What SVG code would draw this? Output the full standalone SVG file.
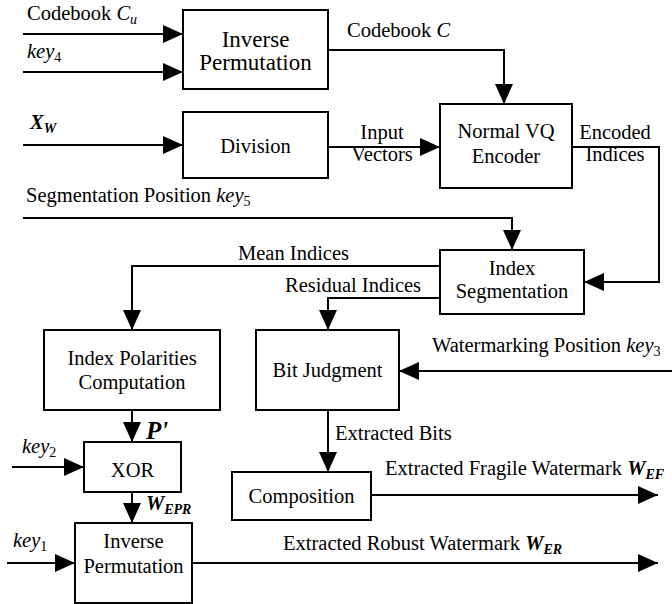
<svg xmlns="http://www.w3.org/2000/svg" width="672" height="604" viewBox="0 0 672 604">
  <style>
    .t { font-family: "Liberation Serif", serif; font-size: 20.5px; }
    .c { text-anchor: middle; }
    .i { font-style: italic; }
    .bi { font-style: italic; font-weight: bold; }
    .sub { font-size: 14px; }
    .box { fill: #fff; stroke: #000; stroke-width: 2; }
    .wire { fill: none; stroke: #000; stroke-width: 2; }
  </style>
  <defs>
    <marker id="arrow" markerUnits="userSpaceOnUse" markerWidth="20" markerHeight="18" refX="20" refY="9" orient="auto">
      <path d="M0,0 L20,9 L0,18 z" fill="#000"/>
    </marker>
  </defs>
  <rect width="672" height="604" fill="#fff"/>

  <!-- connectors -->
  <g id="connectors" class="wire" marker-end="url(#arrow)">
    <path d="M23,34 H183"/>
    <path d="M23,72 H183"/>
    <path d="M328,50 H504 V104"/>
    <path d="M23,145 H183"/>
    <path d="M328,147 H440"/>
    <path d="M572,147 H659 V282 H584"/>
    <path d="M23,218 H512 V250"/>
    <path d="M440,266 H132 V330"/>
    <path d="M440,298 H328 V330"/>
    <path d="M672,371 H399"/>
    <path d="M328,410 V472"/>
    <path d="M371,495 H658"/>
    <path d="M132,410 V442"/>
    <path d="M12,467 H84"/>
    <path d="M132,492 V523"/>
    <path d="M7,563 H75"/>
    <path d="M192,563 H658"/>
  </g>

  <!-- connector labels -->
  <g id="labels">
    <text class="t" font-family="Liberation Serif" x="27" y="20">Codebook <tspan class="i">C</tspan><tspan class="i sub" dy="4">u</tspan></text>
    <text class="t" font-family="Liberation Serif" x="27" y="58"><tspan class="i">key</tspan><tspan class="sub" dy="4">4</tspan></text>
    <text class="t" font-family="Liberation Serif" x="347" y="37">Codebook <tspan class="i">C</tspan></text>
    <text class="t c" font-family="Liberation Serif" x="382" y="139">Input</text>
    <text class="t c" font-family="Liberation Serif" x="382" y="161">Vectors</text>
    <text class="t c" font-family="Liberation Serif" x="615" y="139">Encoded</text>
    <text class="t c" font-family="Liberation Serif" x="615" y="161">Indices</text>
    <text class="t" font-family="Liberation Serif" x="30" y="129"><tspan class="bi">X</tspan><tspan class="bi sub" dy="4">W</tspan></text>
    <text class="t" font-family="Liberation Serif" x="26" y="202">Segmentation Position <tspan class="i">key</tspan><tspan class="sub" dy="4">5</tspan></text>
    <text class="t" font-family="Liberation Serif" x="238" y="260">Mean Indices</text>
    <text class="t" font-family="Liberation Serif" x="285" y="292">Residual Indices</text>
    <text class="t" font-family="Liberation Serif" x="432" y="352">Watermarking Position <tspan class="i">key</tspan><tspan class="sub" dy="4">3</tspan></text>
    <text class="t" font-family="Liberation Serif" x="335" y="440">Extracted Bits</text>
    <text class="t" font-family="Liberation Serif" x="385" y="475">Extracted Fragile Watermark <tspan class="bi">W</tspan><tspan class="bi sub" dy="4">EF</tspan></text>
    <text class="t" font-family="Liberation Serif" x="283" y="550">Extracted Robust Watermark <tspan class="bi">W</tspan><tspan class="bi sub" dy="4">ER</tspan></text>
    <text class="t bi" font-family="Liberation Serif" style="font-size:25px" x="146" y="439">P'</text>
    <text class="t" font-family="Liberation Serif" x="146" y="510"><tspan class="bi">W</tspan><tspan class="bi sub" dy="4">EPR</tspan></text>
    <text class="t" font-family="Liberation Serif" x="22" y="453"><tspan class="i">key</tspan><tspan class="sub" dy="4">2</tspan></text>
    <text class="t" font-family="Liberation Serif" x="13" y="547"><tspan class="i">key</tspan><tspan class="sub" dy="4">1</tspan></text>
  </g>

  <!-- nodes -->
  <g id="inverse-permutation-codebook">
    <rect class="box" x="183" y="10" width="145" height="79"/>
    <text class="t c" font-family="Liberation Serif" style="font-size:23px" x="255.5" y="47">Inverse</text>
    <text class="t c" font-family="Liberation Serif" style="font-size:23px" x="255.5" y="70">Permutation</text>
  </g>
  <g id="division">
    <rect class="box" x="183" y="112" width="145" height="66"/>
    <text class="t c" font-family="Liberation Serif" x="255.5" y="153">Division</text>
  </g>
  <g id="vq-encoder">
    <rect class="box" x="440" y="104" width="132" height="84"/>
    <text class="t c" font-family="Liberation Serif" x="506" y="138">Normal VQ</text>
    <text class="t c" font-family="Liberation Serif" x="506" y="163">Encoder</text>
  </g>
  <g id="index-segmentation">
    <rect class="box" x="440" y="250" width="144" height="64"/>
    <text class="t c" font-family="Liberation Serif" x="512" y="275">Index</text>
    <text class="t c" font-family="Liberation Serif" x="512" y="298">Segmentation</text>
  </g>
  <g id="index-polarities">
    <rect class="box" x="44" y="330" width="176" height="80"/>
    <text class="t c" font-family="Liberation Serif" x="132" y="365">Index Polarities</text>
    <text class="t c" font-family="Liberation Serif" x="132" y="389">Computation</text>
  </g>
  <g id="bit-judgment">
    <rect class="box" x="256" y="330" width="143" height="80"/>
    <text class="t c" font-family="Liberation Serif" x="327.5" y="377">Bit Judgment</text>
  </g>
  <g id="xor">
    <rect class="box" x="84" y="442" width="97" height="50"/>
    <text class="t c" font-family="Liberation Serif" x="132.5" y="477">XOR</text>
  </g>
  <g id="composition">
    <rect class="box" x="232" y="472" width="139" height="48"/>
    <text class="t c" font-family="Liberation Serif" x="301.5" y="503">Composition</text>
  </g>
  <g id="inverse-permutation-watermark">
    <rect class="box" x="75" y="523" width="117" height="80"/>
    <text class="t c" font-family="Liberation Serif" x="133.5" y="548">Inverse</text>
    <text class="t c" font-family="Liberation Serif" x="133.5" y="573">Permutation</text>
  </g>
</svg>
